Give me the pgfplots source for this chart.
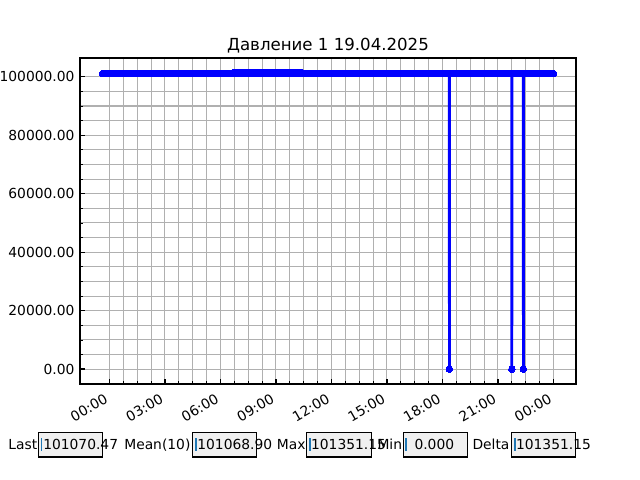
\documentclass[border=0pt]{standalone}
\usepackage{fontspec}
\setmainfont{DejaVu Sans}
\usepackage{pgfplots}
\pgfplotsset{compat=1.18}
\definecolor{gridgray}{HTML}{B0B0B0}
\definecolor{boxgray}{HTML}{F0F0F0}
\definecolor{cursorblue}{HTML}{1F77B4}
\begin{document}
\begin{tikzpicture}
\useasboundingbox (0,0) rectangle (6.4in,4.8in);
\begin{axis}[
  at={(0.80in,0.96in)}, anchor=south west,
  scale only axis, width=4.96in, height=3.26in,
  xmin=-1.59375, xmax=25.21875,
  ymin=-5067.56, ymax=106418.71,
  /pgf/number format/assume math mode=true,
  scaled y ticks=false,
  xtick={0,3,6,9,12,15,18,21,24},
  xticklabels={00:00,03:00,06:00,09:00,12:00,15:00,18:00,21:00,00:00},
  ytick={0,20000,40000,60000,80000,100000},
  minor x tick num=3, minor y tick num=3,
  grid=both,
  major grid style={color=gridgray, line width=0.75pt},
  minor grid style={color=gridgray, line width=0.75pt},
  tick align=inside, tick pos=left,
  major tick length=3.5pt, minor tick length=2pt,
  major tick style={black, line width=1pt},
  minor tick style={black, line width=0.6pt},
  axis line style={black, line width=0.8pt},
  yticklabel style={/pgf/number format/fixed, /pgf/number format/fixed zerofill,
    /pgf/number format/precision=2, /pgf/number format/1000 sep={},
    anchor=east, inner sep=0pt, xshift=-3.8pt},
  xticklabel style={anchor=north east, inner sep=0pt, xshift=-4.2pt, yshift=-6.4pt, rotate=30},
  title={Давление 1 19.04.2025},
  title style={at={(0.5,1)}, anchor=base, inner sep=0pt, yshift=-0.6pt, font=\fontsize{12}{14.4}\selectfont},
]
\addplot[color=blue, line width=2pt, mark=*, mark size=2.4pt, mark options={fill=blue, draw=blue, line width=0pt}] coordinates {
(-0.375,101070)(-0.25,101070)(-0.125,101070)
(0,101070)(0.125,101070)(0.25,101070)(0.375,101070)(0.5,101070)(0.625,101070)(0.75,101070)(0.875,101070)
(1,101070)(1.125,101070)(1.25,101070)(1.375,101070)(1.5,101070)(1.625,101070)(1.75,101070)(1.875,101070)
(2,101070)(2.125,101070)(2.25,101070)(2.375,101070)(2.5,101070)(2.625,101070)(2.75,101070)(2.875,101070)
(3,101070)(3.125,101070)(3.25,101070)(3.375,101070)(3.5,101070)(3.625,101070)(3.75,101070)(3.875,101070)
(4,101070)(4.125,101070)(4.25,101070)(4.375,101070)(4.5,101070)(4.625,101070)(4.75,101070)(4.875,101070)
(5,101070)(5.125,101070)(5.25,101070)(5.375,101070)(5.5,101070)(5.625,101070)(5.75,101070)(5.875,101070)
(6,101070)(6.125,101070)(6.25,101070)(6.375,101070)(6.5,101070)(6.625,101070)(6.6875,101350)(6.75,101350)(6.8125,101350)(6.875,101350)(6.9375,101350)
(7,101350)(7.0625,101350)(7.125,101350)(7.1875,101350)(7.25,101350)(7.3125,101350)(7.375,101350)(7.4375,101350)(7.5,101350)(7.5625,101350)(7.625,101350)(7.6875,101350)(7.75,101350)(7.8125,101350)(7.875,101350)(7.9375,101350)
(8,101350)(8.0625,101350)(8.125,101350)(8.1875,101350)(8.25,101350)(8.3125,101350)(8.375,101350)(8.4375,101350)(8.5,101350)(8.5625,101350)(8.625,101350)(8.6875,101350)(8.75,101350)(8.8125,101350)(8.875,101350)(8.9375,101350)
(9,101350)(9.0625,101350)(9.125,101350)(9.1875,101350)(9.25,101350)(9.3125,101350)(9.375,101350)(9.4375,101350)(9.5,101350)(9.5625,101350)(9.625,101350)(9.6875,101350)(9.75,101350)(9.8125,101350)(9.875,101350)(9.9375,101350)
(10,101350)(10.0625,101350)(10.125,101350)(10.1875,101350)(10.25,101351.15)(10.3125,101350)(10.375,101350)(10.4375,101350)(10.5,101070)(10.625,101070)(10.75,101070)(10.875,101070)
(11,101070)(11.125,101070)(11.25,101070)(11.375,101070)(11.5,101070)(11.625,101070)(11.75,101070)(11.875,101070)
(12,101070)(12.125,101070)(12.25,101070)(12.375,101070)(12.5,101070)(12.625,101070)(12.75,101070)(12.875,101070)
(13,101070)(13.125,101070)(13.25,101070)(13.375,101070)(13.5,101070)(13.625,101070)(13.75,101070)(13.875,101070)
(14,101070)(14.125,101070)(14.25,101070)(14.375,101070)(14.5,101070)(14.625,101070)(14.75,101070)(14.875,101070)
(15,101070)(15.125,101070)(15.25,101070)(15.375,101070)(15.5,101070)(15.625,101070)(15.75,101070)(15.875,101070)
(16,101070)(16.125,101070)(16.25,101070)(16.375,101070)(16.5,101070)(16.625,101070)(16.75,101070)(16.875,101070)
(17,101070)(17.125,101070)(17.25,101070)(17.375,101070)(17.5,101070)(17.625,101070)(17.75,101070)(17.875,101070)
(18,101070)(18.125,101070)(18.25,101070)(18.37,101070)(18.375,0)(18.38,101070)(18.5,101070)(18.625,101070)(18.75,101070)(18.875,101070)
(19,101070)(19.125,101070)(19.25,101070)(19.375,101070)(19.5,101070)(19.625,101070)(19.75,101070)(19.875,101070)
(20,101070)(20.125,101070)(20.25,101070)(20.375,101070)(20.5,101070)(20.625,101070)(20.75,101070)(20.875,101070)
(21,101070)(21.125,101070)(21.25,101070)(21.375,101070)(21.5,101070)(21.625,101070)(21.74,101070)(21.75,0)(21.76,101070)(21.875,101070)
(22,101070)(22.125,101070)(22.25,101070)(22.37,101070)(22.375,0)(22.38,101070)(22.5,101070)(22.625,101070)(22.75,101070)(22.875,101070)
(23,101070)(23.125,101070)(23.25,101070)(23.375,101070)(23.5,101070)(23.625,101070)(23.75,101070)(23.875,101070)
(24,101070.47)
};
\end{axis}
\begin{scope}[x=0.01in, y=0.01in]
  % boxes
  \draw[fill=boxgray, line width=0.75pt] (38.3,23) rectangle (102.8,48);
  \draw[fill=boxgray, line width=0.75pt] (192.5,23) rectangle (256.9,48);
  \draw[fill=boxgray, line width=0.75pt] (307.1,23) rectangle (371.5,48);
  \draw[fill=boxgray, line width=0.75pt] (403.3,23) rectangle (467.8,48);
  \draw[fill=boxgray, line width=0.75pt] (512.2,23) rectangle (576.3,48);
  % cursors
  \draw[cursorblue, line width=1.3pt] (41.6,29.3) -- (41.6,42.3);
  \draw[cursorblue, line width=1.3pt] (195.8,29.3) -- (195.8,42.3);
  \draw[cursorblue, line width=1.3pt] (310.4,29.3) -- (310.4,42.3);
  \draw[cursorblue, line width=1.3pt] (406.6,29.3) -- (406.6,42.3);
  \draw[cursorblue, line width=1.3pt] (515.5,29.3) -- (515.5,42.3);
  % labels
  \node[anchor=base east, inner sep=0pt] at (37.6,31) {Last};
  \node[anchor=base east, inner sep=0pt] at (190.8,31) {Mean(10)};
  \node[anchor=base east, inner sep=0pt] at (306,31) {Max};
  \node[anchor=base east, inner sep=0pt] at (402.6,31) {Min};
  \node[anchor=base east, inner sep=0pt] at (510,31) {Delta};
  % values
  \node[anchor=base west, inner sep=0pt] at (43.0,31) {101070.47};
  \node[anchor=base west, inner sep=0pt] at (197.2,31) {101068.90};
  \node[anchor=base west, inner sep=0pt] at (311.0,31) {101351.15};
  \node[anchor=base west, inner sep=0pt] at (414.5,31) {0.000};
  \node[anchor=base west, inner sep=0pt] at (516.1,31) {101351.15};
\end{scope}
\end{tikzpicture}
\end{document}
